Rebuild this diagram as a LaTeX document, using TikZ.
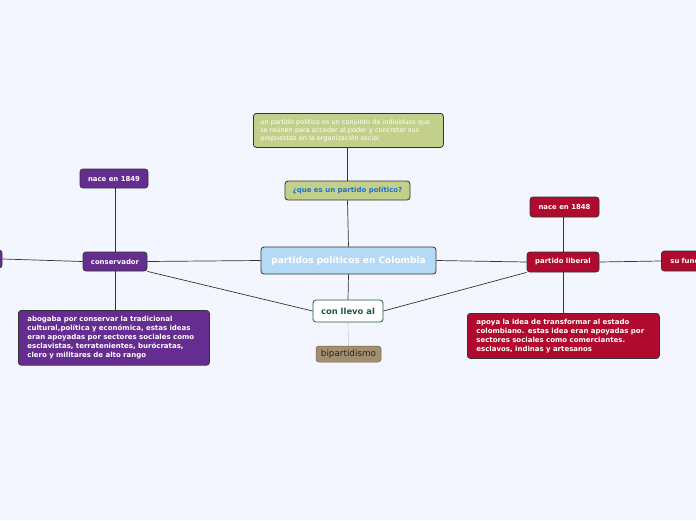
\documentclass[tikz,border=0pt]{standalone}
\usepackage{fontspec}
\setmainfont{DejaVu Sans}
\definecolor{bg}{HTML}{F3F6FE}
\definecolor{purp}{HTML}{662D91}
\definecolor{redd}{HTML}{B00B2E}
\definecolor{olive}{HTML}{C3D08B}
\definecolor{lblue}{HTML}{B4DAF8}
\definecolor{brownn}{HTML}{A38F6D}
\definecolor{dgreen}{HTML}{1E5A40}
\definecolor{edge}{HTML}{333333}
\definecolor{qblue}{HTML}{1F6FD0}
\pgfdeclarelayer{bglayer}
\pgfdeclarelayer{linklayer}
\pgfsetlayers{bglayer,linklayer,main}
\tikzset{
  box/.style={draw=edge, line width=0.8pt, rounded corners=3pt, inner sep=0pt, font=\bfseries\fontsize{6.9}{8}\selectfont, text=white},
  purpbox/.style={box, fill=purp},
  redbox/.style={box, fill=redd},
  bigtext/.style={anchor=north west, align=left, inner xsep=9pt, inner ysep=6pt, font=\bfseries\fontsize{7}{9}\selectfont},
  link/.style={draw=edge, line width=0.7pt},
}
\begin{document}
\begin{tikzpicture}[x=1pt,y=-1pt]
\begin{pgfonlayer}{bglayer}
\fill[bg] (0,0) rectangle (696,520);
\end{pgfonlayer}
\useasboundingbox (0,0) rectangle (696,520);
\begin{scope}
\clip (0,0) rectangle (696,520);
% nodes
\node[box, fill=lblue, minimum width=175pt, minimum height=27pt, font=\bfseries\fontsize{9}{10}\selectfont] (c) at (348.5,260.5) {partidos políticos en Colombia};
\node[box, fill=olive, minimum width=125pt, minimum height=19pt, text=qblue, font=\bfseries\fontsize{7}{8}\selectfont] (q) at (347.5,190.5) {¿que es un partido político?};
\node[box, fill=olive, minimum width=190pt, minimum height=34pt, text=white, font=\fontsize{6.5}{8}\selectfont, align=left, anchor=north west, inner xsep=7pt, inner ysep=4.5pt, text width=176pt] (d) at (253,113) {un partido político es un conjunto de individuos que\\se reúnen para acceder al poder y concretar sus\\propuestas en la organización social};
\node[purpbox, minimum width=68pt, minimum height=19pt] (n49) at (114,178.5) {nace en 1849};
\node[purpbox, minimum width=64pt, minimum height=19pt] (cons) at (115,261.5) {conservador};
\node[purpbox, minimum width=40pt, minimum height=18pt] (lft) at (-18,259) {};
\node[purpbox, bigtext, text width=173pt, minimum height=53pt] (pb) at (18,310) {abogaba por conservar la tradicional\\cultural,política y económica, estas ideas\\eran apoyadas por sectores sociales como\\esclavistas, terratenientes, burócratas,\\clero y militares de alto rango};
\node[box, fill=white, draw=dgreen, text=dgreen, minimum width=70pt, minimum height=22pt, font=\bfseries\fontsize{8.4}{9}\selectfont] (ll) at (348,311) {con llevo al};
\node[box, fill=brownn, draw=brownn!70!black, line width=0.5pt, text=black!85, minimum width=65pt, minimum height=16pt, font=\fontsize{8.8}{9}\selectfont] (bi) at (348.5,354) {bipartidismo};
\node[redbox, minimum width=69pt, minimum height=20pt] (n48) at (564.5,207) {nace en 1848};
\node[redbox, minimum width=72pt, minimum height=20pt] (lib) at (563,262) {partido liberal};
\node[redbox, minimum width=70pt, minimum height=20pt, anchor=west, text width=64pt, align=left] (fun) at (661,261) {\hspace*{6pt}su funciones};
\node[redbox, bigtext, text width=174pt, minimum height=45pt, inner ysep=5pt] (rb) at (467,313) {apoya la idea de transformar al estado\\colombiano. estas idea eran apoyadas por\\sectores sociales como comerciantes.\\esclavos, indinas y artesanos};
\end{scope}
% links
\begin{pgfonlayer}{linklayer}
\begin{scope}
\clip (0,0) rectangle (696,520);
\draw[link] (c.north) -- (q.south);
\draw[link] (q.north) -- (d.south -| q.north);
\draw[link] (c.west) -- (cons.east);
\draw[link] (c.east) -- (lib.west);
\draw[link] (c.south) -- (ll.north);
\draw[link] (cons.south east) -- (ll.west);
\draw[link] (lib.south west) -- (ll.east);
\draw[link] (cons.north) -- (n49.south -| cons.north);
\draw[link] (cons.south) -- (pb.north -| cons.south);
\draw[link] (cons.west) -- (lft.east);
\draw[link] (lib.north) -- (n48.south -| lib.north);
\draw[link] (lib.south) -- (rb.north -| lib.south);
\draw[link] (lib.east) -- (fun.west);
\draw[draw=gray!40, line width=0.6pt] (ll.south) -- (bi.north);
\end{scope}
\end{pgfonlayer}
\end{tikzpicture}
\end{document}
